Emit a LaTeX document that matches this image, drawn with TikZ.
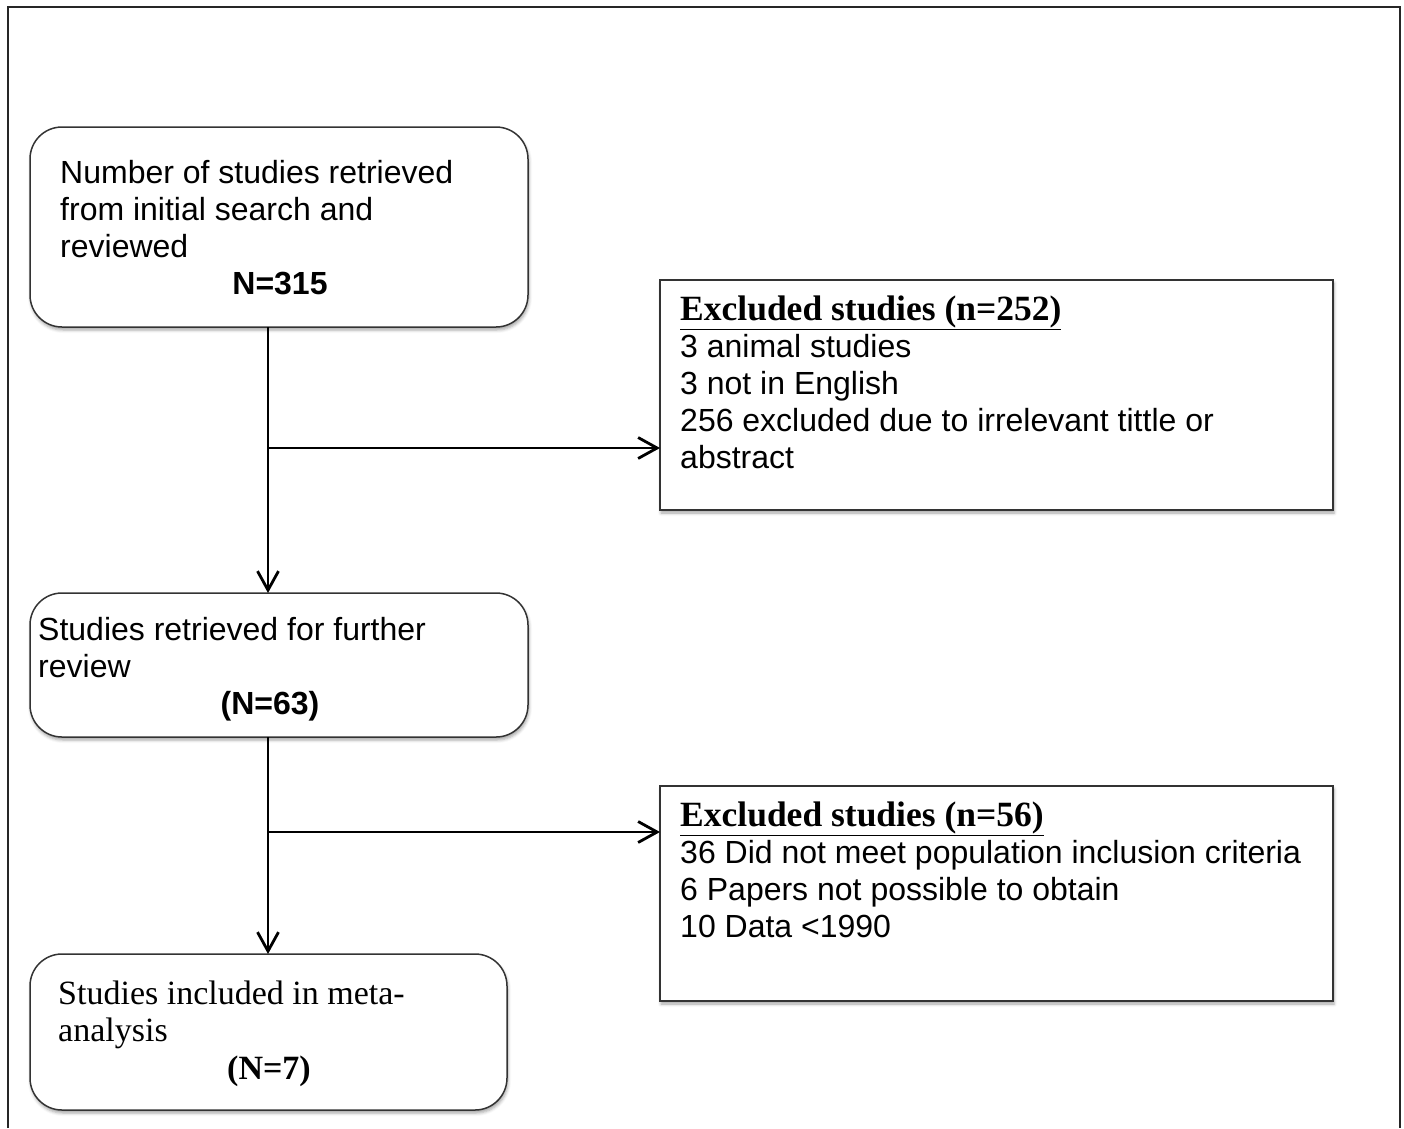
\documentclass[tikz,border=0pt]{standalone}
\usepackage{fontspec}
\setmainfont{Liberation Sans}
\newfontfamily\capfont{Liberation Serif}
\usetikzlibrary{arrows.meta,shadows.blur}

\begin{document}
\begin{tikzpicture}[x=1pt,y=-1pt,
  rbox/.style={draw=black!80,line width=1.5pt,fill=white,rounded corners=32pt,anchor=north west,outer sep=0pt,
    blur shadow={shadow xshift=1pt,shadow yshift=-3pt,shadow blur radius=3pt,shadow opacity=35}},
  sbox/.style={rbox,sharp corners},
  txt/.style={anchor=north west,inner sep=0pt,align=left,font=\fontsize{32}{37}\selectfont},
  num/.style={anchor=base,inner sep=0pt,font=\fontsize{32}{37}\selectfont\bfseries},
  head/.style={anchor=base west,inner sep=0pt,font=\capfont\fontsize{35.5}{37}\selectfont\bfseries},
  arr/.style={line width=2.8pt,-{Straight Barb[length=19pt,width=21pt,line width=2.8pt]}}]
\useasboundingbox (0,0) rectangle (1404,1128);
\draw[line width=1.6pt,black!85] (8,1128) -- (8,7) -- (1400,7) -- (1400,1128);

% boxes
\node[rbox,minimum width=498pt,minimum height=200pt] (search) at (30,127) {};
\node[sbox,minimum width=673pt,minimum height=230pt] (excl1) at (660,280) {};
\node[rbox,minimum width=498pt,minimum height=144pt] (review) at (30,593) {};
\node[sbox,minimum width=673pt,minimum height=215pt] (excl2) at (660,786) {};
\node[rbox,minimum width=477pt,minimum height=156pt] (meta) at (30,954) {};

% texts
\node[txt] (t1) at (60,160) {Number of studies retrieved\\from initial search and\\reviewed};
\node[num] (n1) at (280,294) {N=315};
\node[head] (h1) at (680,320) {\underline{Excluded studies (n=252)}};
\node[txt] (t2) at (680,334) {3 animal studies\\3 not in English\\256 excluded due to irrelevant tittle or\\abstract};
\node[txt] (t3) at (38,617) {Studies retrieved for further\\review};
\node[num] (n3) at (270,714) {(N=63)};
\node[head] (h2) at (680,826) {\underline{Excluded studies (n=56)}};
\node[txt] (t4) at (680,840) {36 Did not meet population inclusion criteria\\6 Papers not possible to obtain\\10 Data <1990};
\node[txt,font=\capfont\fontsize{34}{37}\selectfont] (t5) at (58,981) {Studies included in meta-\\analysis};
\node[num,font=\capfont\fontsize{34}{37}\selectfont\bfseries] (n5) at (269,1079) {(N=7)};

% connectors
\coordinate (spine) at (268,0);
\coordinate (j1) at (268,448);
\coordinate (j2) at (268,832);
\draw[arr] (search.south -| spine) -- (review.north -| spine);
\draw[arr] (j1) -- (j1 -| excl1.west);
\draw[arr] (review.south -| spine) -- (meta.north -| spine);
\draw[arr] (j2) -- (j2 -| excl2.west);
\end{tikzpicture}
\end{document}
